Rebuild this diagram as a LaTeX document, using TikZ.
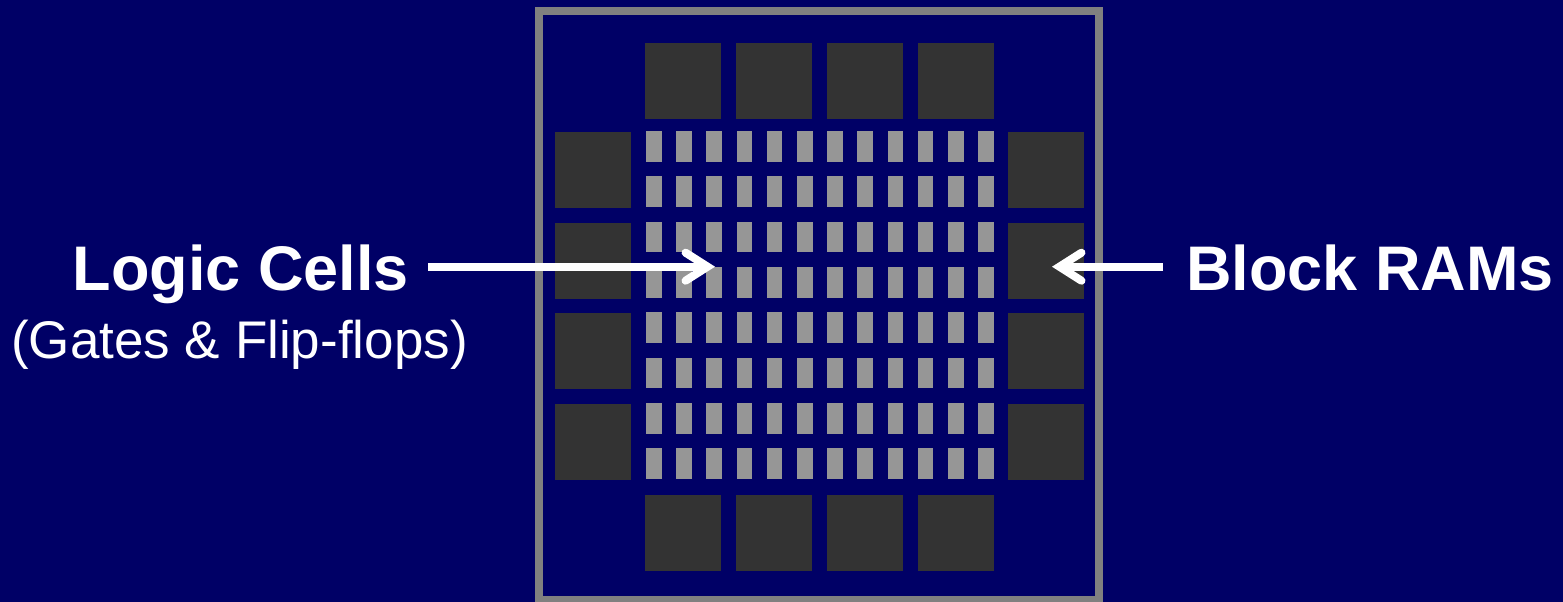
\documentclass[tikz,border=0pt]{standalone}
\usepackage{fontspec}
\setmainfont{Liberation Sans}
\usetikzlibrary{arrows.meta}
\definecolor{navy}{HTML}{000066}
\definecolor{blockgray}{HTML}{333333}
\definecolor{cellgray}{HTML}{969696}
\definecolor{framegray}{HTML}{808080}
\begin{document}
\begin{tikzpicture}[x=1pt,y=-1pt,
  ramblock/.style={fill=blockgray},
  lcell/.style={fill=cellgray},
  pointer/.style={white, line width=8pt, -{Straight Barb[length=22pt,width=28pt,line cap=round,line join=miter]}},
  bigtext/.style={text=white, font=\fontsize{63}{70}\selectfont\bfseries, inner sep=0pt, anchor=base},
  subtext/.style={text=white, font=\fontsize{53}{60}\selectfont, inner sep=0pt, anchor=base}]
\clip (0,0) rectangle (1563,602);
\fill[navy] (0,0) rectangle (1563,602);
\draw[framegray, line width=8pt] (539,11) rectangle (1099,600);
\foreach \i in {0,...,3} {
  \fill[ramblock] ({645+91*\i},43) rectangle ++(76,76);
  \fill[ramblock] ({645+91*\i},495) rectangle ++(76,76);
  \fill[ramblock] (555,{132+90.7*\i}) rectangle ++(76,76);
  \fill[ramblock] (1008,{132+90.7*\i}) rectangle ++(76,76);
}
\foreach \c in {0,...,11} {
  \foreach \r in {0,...,7} {
    \fill[lcell] ({646+30.2*\c},{131+45.3*\r}) rectangle ++(15.5,30.8);
  }
}
\node[bigtext] (logic) at (241,290) {Logic Cells};
\node[subtext] (gates) at (239.5,358) {(Gates \& Flip-flops)};
\node[bigtext] (bram) at (1370,290) {Block RAMs};
\coordinate (lcstart) at (428,266.7);
\coordinate (lctip) at (715,266.7);
\coordinate (brstart) at (1163,266.7);
\coordinate (brtip) at (1052,266.7);
\draw[pointer] (lcstart) -- (lctip);
\draw[pointer] (brstart) -- (brtip);
\end{tikzpicture}
\end{document}
